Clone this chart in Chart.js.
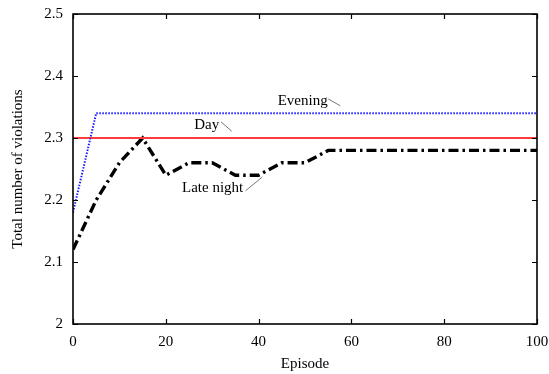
<!DOCTYPE html>
<html>
<head>
<meta charset="utf-8">
<script src="https://cdn.jsdelivr.net/npm/chart.js@4/dist/chart.umd.min.js"></script>
<style>
  html, body { margin: 0; padding: 0; background: #fff; }
  #wrap { width: 549px; height: 374px; }
</style>
</head>
<body>
<div id="wrap"><canvas id="c" width="549" height="374"></canvas></div>
<script>
const episodes = [0,5,10,15,20,25,30,35,40,45,50,55,60,65,70,75,80,85,90,95,100];
const lateNight = [2.12,2.20,2.26,2.30,2.24,2.26,2.26,2.24,2.24,2.26,2.26,2.28,2.28,2.28,2.28,2.28,2.28,2.28,2.28,2.28,2.28];
const evening = [2.18,2.34,2.34,2.34,2.34,2.34,2.34,2.34,2.34,2.34,2.34,2.34,2.34,2.34,2.34,2.34,2.34,2.34,2.34,2.34,2.34];
const day = [2.30,2.30,2.30,2.30,2.30,2.30,2.30,2.30,2.30,2.30,2.30,2.30,2.30,2.30,2.30,2.30,2.30,2.30,2.30,2.30,2.30];
const xTicks = [0,20,40,60,80,100];
const yTicks = [2,2.1,2.2,2.3,2.4,2.5];
const seriesNames = ['Evening','Day','Late night'];

const FONT = 'Liberation Serif';
const FS = 15;
const toPts = arr => arr.map((v, i) => ({x: episodes[i], y: v}));

// annotation labels: text centre + leader line, in data units
const notes = [
  {text: seriesNames[0], tx: 49.5, ty: 2.360, l: [55.0, 2.363, 57.6, 2.352]},
  {text: seriesNames[1], tx: 28.8, ty: 2.321, l: [31.9, 2.326, 34.2, 2.311]},
  {text: seriesNames[2], tx: 30.1, ty: 2.220, l: [37.2, 2.215, 40.8, 2.237]}
];

const framePlugin = {
  id: 'frame',
  afterDatasetsDraw(chart) {
    const {ctx, chartArea: a, scales: {x, y}} = chart;
    ctx.save();
    ctx.strokeStyle = '#000';
    ctx.lineWidth = 1.6;
    ctx.strokeRect(a.left, a.top, a.right - a.left, a.bottom - a.top);
    ctx.lineWidth = 1.2;
    const tl = 5;
    xTicks.forEach(v => {
      const px = Math.round(x.getPixelForValue(v)) + 0.5;
      ctx.beginPath();
      ctx.moveTo(px, a.bottom); ctx.lineTo(px, a.bottom - tl);
      ctx.moveTo(px, a.top); ctx.lineTo(px, a.top + tl);
      ctx.stroke();
    });
    yTicks.forEach(v => {
      const py = Math.round(y.getPixelForValue(v)) + 0.5;
      ctx.beginPath();
      ctx.moveTo(a.left, py); ctx.lineTo(a.left + tl, py);
      ctx.moveTo(a.right, py); ctx.lineTo(a.right - tl, py);
      ctx.stroke();
    });
    // annotations
    ctx.font = FS + 'px "' + FONT + '"';
    ctx.fillStyle = '#000';
    ctx.textAlign = 'center';
    ctx.textBaseline = 'middle';
    notes.forEach(n => {
      ctx.fillText(n.text, x.getPixelForValue(n.tx), y.getPixelForValue(n.ty));
      ctx.beginPath();
      ctx.strokeStyle = '#555';
      ctx.lineWidth = 0.8;
      ctx.moveTo(x.getPixelForValue(n.l[0]), y.getPixelForValue(n.l[1]));
      ctx.lineTo(x.getPixelForValue(n.l[2]), y.getPixelForValue(n.l[3]));
      ctx.stroke();
    });
    ctx.restore();
  }
};

new Chart(document.getElementById('c'), {
  type: 'line',
  data: {
    datasets: [
      {label: seriesNames[0], data: toPts(evening), borderColor: '#1a1aff', borderWidth: 2, borderDash: [1.5, 1.5], pointRadius: 0, tension: 0},
      {label: seriesNames[1], data: toPts(day), borderColor: '#ff3b3b', borderWidth: 2.2, pointRadius: 0, tension: 0},
      {label: seriesNames[2], data: toPts(lateNight), borderColor: '#000', borderWidth: 3.4, borderDash: [10, 4, 2.5, 4], pointRadius: 0, tension: 0}
    ]
  },
  options: {
    responsive: false,
    animation: false,
    layout: {padding: {top: 14, right: 12, left: 0, bottom: 0}},
    plugins: {legend: {display: false}, tooltip: {enabled: false}},
    scales: {
      x: {
        type: 'linear', min: 0, max: 100,
        afterBuildTicks: s => { s.ticks = xTicks.map(v => ({value: v})); },
        afterFit: s => { s.height = 50; s.paddingLeft = 0; s.paddingRight = 0; },
        grid: {display: false, drawTicks: false},
        border: {display: false},
        ticks: {color: '#000', padding: 9, maxRotation: 0, font: {family: FONT, size: FS}},
        title: {display: true, text: 'Episode', color: '#000', font: {family: FONT, size: FS}, padding: {top: 0, bottom: 1}}
      },
      y: {
        min: 2, max: 2.5,
        afterBuildTicks: s => { s.ticks = yTicks.map(v => ({value: v})); },
        afterFit: s => { s.width = 73; s.paddingTop = 0; s.paddingBottom = 0; },
        grid: {display: false, drawTicks: false},
        border: {display: false},
        ticks: {color: '#000', padding: 10, font: {family: FONT, size: FS}, callback: v => String(Math.round(v * 10) / 10)},
        title: {display: true, text: 'Total number of violations', color: '#000', font: {family: FONT, size: FS}, padding: {top: 9, bottom: 0}}
      }
    }
  },
  plugins: [framePlugin]
});
</script>
</body>
</html>
